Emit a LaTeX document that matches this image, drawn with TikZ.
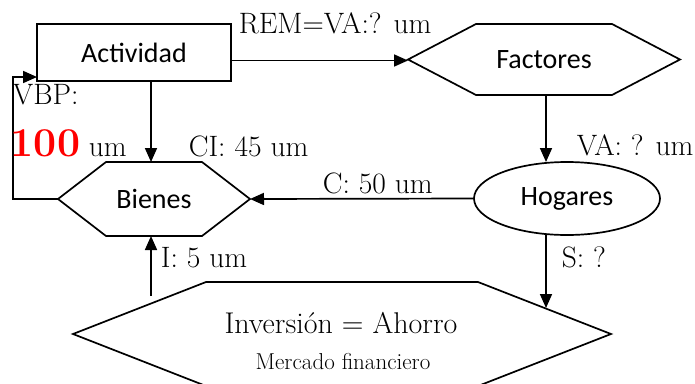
\documentclass[tikz,border=0pt]{standalone}
\usepackage{fontspec}
\newfontfamily\calfont{Carlito}
\usetikzlibrary{arrows.meta,shapes.geometric}
\begin{document}
\begin{tikzpicture}[x=1pt,y=-1pt,line width=1.7pt,
  arr/.style={-{Triangle[length=14pt,width=12pt]}},
  nodefont/.style={font=\calfont\fontsize{28}{30}\selectfont},
  hexn/.style={draw=none,inner sep=0pt,outer sep=0pt,nodefont},
  lbl/.style={anchor=base west,inner sep=0pt,font=\fontsize{29.5}{31}\selectfont},
  hexpath/.style={line join=miter}]
\useasboundingbox (0,0) rectangle (695,383);
\clip (0,0) rectangle (695,383);
% nodes
\node[draw,rectangle,minimum width=194pt,minimum height=57pt,inner sep=0pt,outer sep=0pt,nodefont] (A) at (134,52.5) {Actividad};
\node[hexn,minimum width=272pt,minimum height=71pt] (F) at (544,59.5) {Factores};
\draw[hexpath] (F.west) -- ([xshift=68pt]F.north west) -- ([xshift=-68pt]F.north east) -- (F.east) -- ([xshift=-68pt]F.south east) -- ([xshift=68pt]F.south west) -- cycle;
\node[draw,ellipse,minimum width=186pt,minimum height=73pt,inner sep=0pt,outer sep=0pt,nodefont] (H) at (567,198.5) {Hogares};
\node[hexn,minimum width=192pt,minimum height=74pt] (B) at (154,199) {Bienes};
\draw[hexpath] (B.west) -- ([xshift=48pt]B.north west) -- ([xshift=-48pt]B.north east) -- (B.east) -- ([xshift=-48pt]B.south east) -- ([xshift=48pt]B.south west) -- cycle;
\node[hexn,minimum width=538pt,minimum height=104pt] (M) at (342,334) {};
\draw[hexpath] (M.west) -- ([xshift=133pt]M.north west) -- ([xshift=-133pt]M.north east) -- (M.east) -- ([xshift=-133pt]M.south east) -- ([xshift=133pt]M.south west) -- cycle;
% coordinates
\coordinate (fb) at (13,77);
\coordinate (sEnd) at (546,308);
\coordinate (iStart) at (151,296);
% connectors
\draw[arr] ([yshift=-8pt]A.east) -- ([yshift=-8pt]A.east -| F.west);
\draw[arr] (A.south -| iStart) -- (iStart |- B.north);
\draw[arr] (F.south -| sEnd) -- (sEnd |- H.north);
\draw[arr] (H.west) -- (B.east);
\draw[arr] (sEnd |- H.south) -- (sEnd);
\draw[arr] (iStart) -- (iStart |- B.south);
\draw[arr] (B.west) -| (fb) -- (fb -| A.west);
% labels
\node[lbl] (lrem) at (238,33) {REM=VA:? um};
\node[lbl] (lva) at (576,155) {VA: ? um};
\node[lbl] (lvbp) at (12,104) {VBP:};
\node[lbl,text=red,font=\bfseries\fontsize{41}{43}\selectfont] (l100) at (10,156) {100};
\node[lbl] (lum) at (88,156) {um};
\node[lbl] (lci) at (188,156) {CI: 45 um};
\node[lbl] (lc) at (322,193) {C: 50 um};
\node[lbl] (li) at (160,267) {I: 5 um};
\node[lbl] (ls) at (561,267) {S: ?};
\node[anchor=base,inner sep=0pt,font=\fontsize{30}{32}\selectfont] (linv) at (341,333) {Inversión = Ahorro};
\node[anchor=base,inner sep=0pt,font=\fontsize{23}{25}\selectfont] (lmer) at (343,369) {Mercado financiero};
\end{tikzpicture}
\end{document}
